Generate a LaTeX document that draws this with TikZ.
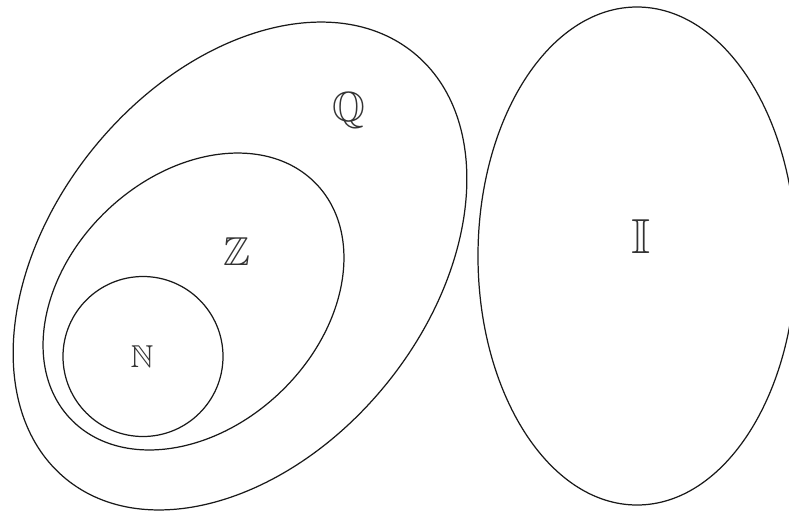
\documentclass[tikz,border=0pt]{standalone}
\usepackage{amsmath,amssymb}
\usepackage{tikz}
\usetikzlibrary{positioning}

\begin{document}
\begin{tikzpicture}[x=0.2mm, y=-0.2mm, set/.style={draw=black!90, line width=0.7pt}, setname/.style={inner sep=0pt, text=black!80}
]
  \useasboundingbox (0,0) rectangle (789,511);
  % nested sets
  \draw[set, rotate around={50.75:(240,266)}] (240,266) ellipse [x radius=275, y radius=188];
  \draw[set, rotate around={43.7:(193.5,301.5)}] (193.5,301.5) ellipse [x radius=170, y radius=125.6];
  \draw[set] (143,356.5) circle [radius=80];
  % irrationals
  \draw[set] (637,256) ellipse [x radius=159, y radius=249];
  \node[setname, font=\fontsize{24}{24}\selectfont] (q) at (349,110) {$\mathbb{Q}$};
  \node[setname, font=\fontsize{23}{23}\selectfont] (z) at (237,252) {$\mathbb{Z}$};
  \node[setname, font=\fontsize{18}{18}\selectfont] (n) at (142,357) {$\mathbb{N}$};
  \node[setname, font=\fontsize{28}{28}\selectfont] (i) at (641,237) {$\mathbb{I}$};
\end{tikzpicture}
\end{document}
